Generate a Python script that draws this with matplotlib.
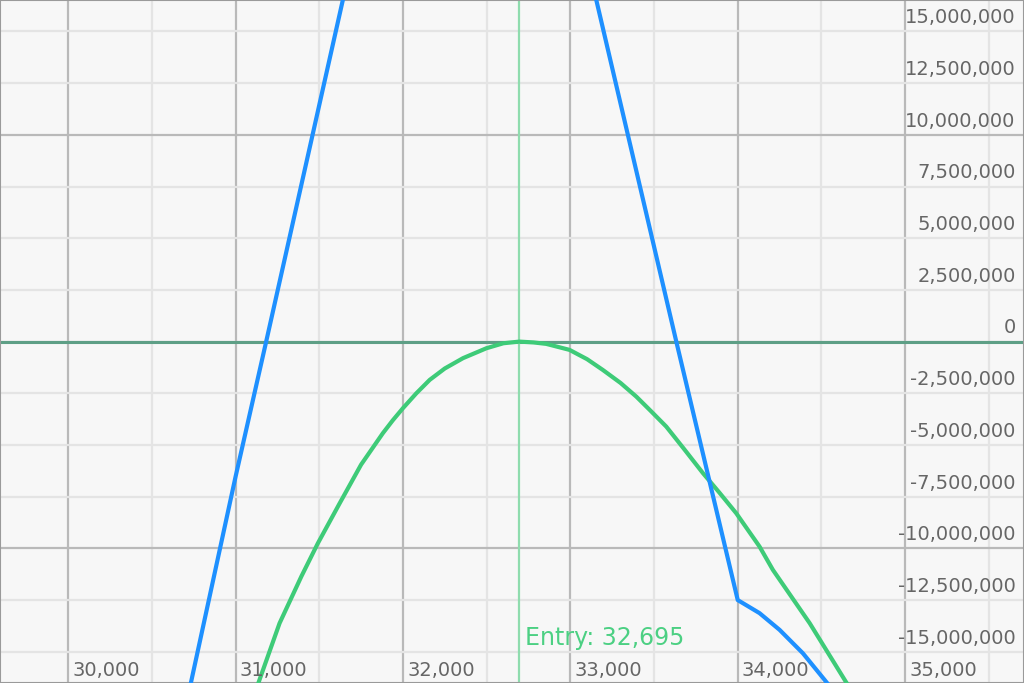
import numpy as np
import matplotlib.pyplot as plt
from matplotlib.ticker import MultipleLocator

# ---------------------------------------------------------
# Data
# ---------------------------------------------------------
entry_price = 32695

# blue payoff line (price, pnl)
blue_price = [30500, 30735, 31000, 31183, 31641, 31800, 33000, 33155, 33633, 34000, 34130, 34250, 34389, 34519, 34700]
blue_pnl = [-25.2e6, -16.44e6, -6.54e6, 0.0, 16.52e6, 22.3e6, 21.8e6, 16.52e6, 0.0, -12.5e6, -13.13e6, -13.94e6, -15.07e6, -16.36e6, -18.2e6]

# green curve (price, pnl)
green_price = [31050, 31143, 31263, 31393, 31492, 31622, 31750, 31880, 31940, 32000, 32080, 32160, 32250, 32359, 32499, 32600, 32695,
               32780, 32856, 32995, 33100, 33194, 33300, 33394, 33480, 33573, 33680, 33792, 33890, 33991, 34130, 34210, 34430, 34639, 34750]
green_pnl = [-18.5e6, -16.36e6, -13.62e6, -11.36e6, -9.75e6, -7.82e6, -5.95e6, -4.43e6, -3.8e6, -3.22e6, -2.5e6, -1.85e6, -1.3e6, -0.80e6, -0.32e6, -0.08e6, 0.0,
             -0.04e6, -0.11e6, -0.40e6, -0.85e6, -1.37e6, -2.0e6, -2.66e6, -3.35e6, -4.11e6, -5.2e6, -6.36e6, -7.3e6, -8.30e6, -9.91e6, -11.04e6, -13.62e6, -16.36e6, -17.8e6]

x_ticks = [30000, 31000, 32000, 33000, 34000, 35000]
y_ticks = [15e6, 12.5e6, 10e6, 7.5e6, 5e6, 2.5e6, 0, -2.5e6, -5e6, -7.5e6, -10e6, -12.5e6, -15e6]

# ---------------------------------------------------------
# Plot
# ---------------------------------------------------------
fig = plt.figure(figsize=(10.24, 6.83), dpi=100)
ax = fig.add_axes([0, 0, 1, 1])
ax.set_facecolor('#f7f7f7')

ax.set_xlim(29593, 35710)
ax.set_ylim(-16.51e6, 16.52e6)

# grid
ax.xaxis.set_major_locator(MultipleLocator(1000))
ax.xaxis.set_minor_locator(MultipleLocator(500))
ax.yaxis.set_major_locator(MultipleLocator(10e6))
ax.yaxis.set_minor_locator(MultipleLocator(2.5e6))
ax.grid(which='minor', color='#e4e4e4', lw=1.6, zorder=0)
ax.grid(which='major', color='#b9b9b9', lw=1.6, zorder=0)
ax.tick_params(which='both', length=0, labelbottom=False, labelleft=False)
ax.set_axisbelow(True)
for s in ax.spines.values():
    s.set_color('#9a9a9a')
    s.set_linewidth(1.5)

# reference lines
ax.axhline(0, color='#5e9f86', lw=2.2, zorder=2)
ax.axvline(entry_price, color='#8fdcae', lw=1.6, zorder=2)

ax.plot(blue_price, blue_pnl, color='#1e90ff', lw=3, zorder=4)
ax.plot(green_price, green_pnl, color='#3ecb78', lw=3, zorder=3)

# tick labels drawn inside the plot
for xt in x_ticks:
    ax.annotate(f'{xt:,}', xy=(xt, 0), xycoords=('data', 'axes fraction'),
                xytext=(3, 2), textcoords='offset points',
                ha='left', va='bottom', fontsize=14, color='#666666', zorder=5)
for yt in y_ticks:
    ax.annotate(f'{int(yt):,}', xy=(1, yt), xycoords=('axes fraction', 'data'),
                xytext=(-6, 3), textcoords='offset points',
                ha='right', va='bottom', fontsize=14, color='#666666', zorder=5)

ax.annotate(f'Entry: {entry_price:,}', xy=(entry_price, -15e6), xycoords='data',
            xytext=(4, 5), textcoords='offset points',
            ha='left', va='baseline', fontsize=17, color='#4cd083', zorder=5)

fig.savefig('out.png', dpi=100)
